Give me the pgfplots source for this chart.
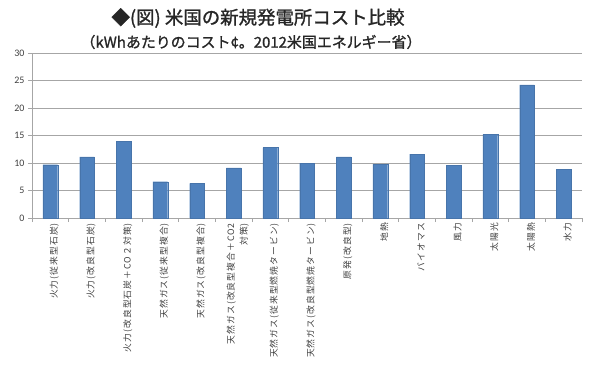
\documentclass[border=0pt]{standalone}
\usepackage{fontspec}
\setmainfont{Noto Sans CJK JP}
\newfontfamily\carlito{Carlito}
\newfontfamily\labfont{Noto Sans CJK JP}[LetterSpace=12]
\newfontfamily\titfont{Noto Sans CJK JP}[FakeBold=1.2]
\usepackage{pgfplots}
\pgfplotsset{compat=1.18}
\definecolor{barblue}{HTML}{4F81BD}
\definecolor{gridgray}{HTML}{A6A6A6}
\definecolor{labelgray}{HTML}{404040}
\begin{document}
\begin{tikzpicture}
\path[use as bounding box] (0,0) rectangle (600bp,365bp);
\begin{axis}[
  at={(32bp,147bp)}, anchor=south west,
  scale only axis, width=550bp, height=165bp,
  xmin=-0.5, xmax=14.5, ymin=0, ymax=30,
  axis x line*=bottom, axis y line*=left,
  axis line style={draw=gridgray, line width=0.8pt},
  ytick={0,5,...,30},
  ymajorgrids, grid style={draw=gridgray, line width=0.8pt},
  xtick={0,...,14},
  minor xtick={-0.5,0.5,...,14.5},
  major x tick style={draw=none},
  minor x tick style={draw=gridgray, line width=0.6pt},
  minor tick length=4bp,
  major tick length=4bp,
  tick align=outside,
  y tick style={draw=gridgray, line width=0.6pt},
  y tick label style={font=\carlito\fontsize{10}{12}\selectfont, text=labelgray},
  /pgf/number format/assume math mode=true,
  xticklabels={火力(従来型石炭), 火力(改良型石炭), 火力(改良型石炭＋CO２対策), 天然ガス(従来型複合), 天然ガス(改良型複合), {天然ガス(改良型複合＋CO2\\対策)}, 天然ガス(従来型燃焼タービン), 天然ガス(改良型燃焼タービン), 原発(改良型), 地熱, バイオマス, 風力, 太陽光, 太陽熱, 水力},
  x tick label style={rotate=90, anchor=east, align=right, font=\labfont\fontsize{8.8}{13}\selectfont, text=labelgray, inner sep=1pt, yshift=-4bp},
  clip=false,
]
\addplot[ybar, bar width=14.7bp, fill=barblue, draw=barblue!90!black, line width=0.3pt, bar shift=0pt]
  coordinates {(0,9.7) (1,11.1) (2,13.9) (3,6.6) (4,6.3) (5,9.1) (6,12.8) (7,10.0) (8,11.1) (9,9.8) (10,11.6) (11,9.6) (12,15.2) (13,24.2) (14,8.8)};
\end{axis}
\node[font=\titfont\fontsize{18.5}{22}\selectfont, text=black!85] at (258bp,347bp) {◆(図) 米国の新規発電所コスト比較};
\node[font=\titfont\fontsize{15}{18}\selectfont, text=black!85] at (251bp,323bp) {（kWhあたりのコスト¢。2012米国エネルギー省）};
\end{tikzpicture}
\end{document}
